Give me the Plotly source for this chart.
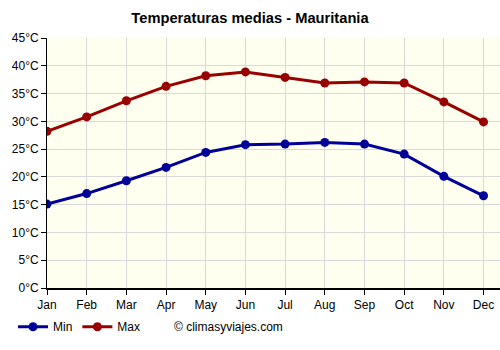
import plotly.graph_objects as go

months = ["Jan", "Feb", "Mar", "Apr", "May", "Jun", "Jul", "Aug", "Sep", "Oct", "Nov", "Dec"]
temp_min = [15.1, 17.0, 19.3, 21.7, 24.4, 25.8, 25.9, 26.2, 25.9, 24.1, 20.1, 16.6]
temp_max = [28.2, 30.8, 33.7, 36.3, 38.2, 38.9, 37.9, 36.9, 37.1, 36.9, 33.5, 29.9]
y_ticks = list(range(0, 50, 5))
y_labels = [f"{v}°C" for v in y_ticks]

x_idx = list(range(len(months)))
font = "Liberation Sans, Arial, sans-serif"

fig = go.Figure()
fig.add_trace(go.Scatter(x=x_idx, y=temp_min, name="Min", mode="lines+markers",
                         line=dict(color="#000099", width=3),
                         marker=dict(color="#000099", size=9)))
fig.add_trace(go.Scatter(x=x_idx, y=temp_max, name="Max", mode="lines+markers",
                         line=dict(color="#990000", width=3),
                         marker=dict(color="#990000", size=9)))

fig.update_layout(
    width=500, height=350,
    margin=dict(l=47, r=0, t=38, b=62),
    paper_bgcolor="white",
    plot_bgcolor="#FFFFF0",
    font=dict(family=font, size=12, color="#000000"),
    title=dict(text="<b>Temperaturas medias - Mauritania</b>", x=0.5, xanchor="center",
               y=1 - 18 / 350, yanchor="middle", font=dict(size=14.7, family=font, color="#000000")),
    showlegend=True,
    legend=dict(orientation="h", x=-0.075, y=-0.155, xanchor="left", yanchor="middle",
                font=dict(size=12, family=font, color="#000000"), bgcolor="rgba(0,0,0,0)",
                itemwidth=30, tracegroupgap=0),
    xaxis=dict(range=[0, 11.415], tickmode="array", tickvals=x_idx, ticktext=months,
               showgrid=True, gridcolor="#D9D9D9", gridwidth=1,
               showline=True, linecolor="#000000", linewidth=2,
               ticks="outside", ticklen=5, tickcolor="#000000", zeroline=False,
               tickfont=dict(size=12, family=font, color="#000000"), fixedrange=True),
    yaxis=dict(range=[0, 45], tickmode="array", tickvals=y_ticks, ticktext=y_labels,
               showgrid=True, gridcolor="#D9D9D9", gridwidth=1,
               showline=True, linecolor="#000000", linewidth=1,
               ticks="outside", ticklen=5, tickcolor="#000000", zeroline=False,
               tickfont=dict(size=12, family=font, color="#000000"), fixedrange=True),
)

fig.add_annotation(text="© climasyviajes.com", xref="paper", yref="paper",
                   x=(172 - 47) / 453, y=-(327 - 288) / 250, xanchor="left", yanchor="middle",
                   showarrow=False, font=dict(size=12, family=font, color="#000000"))

fig.write_html("out.html")
